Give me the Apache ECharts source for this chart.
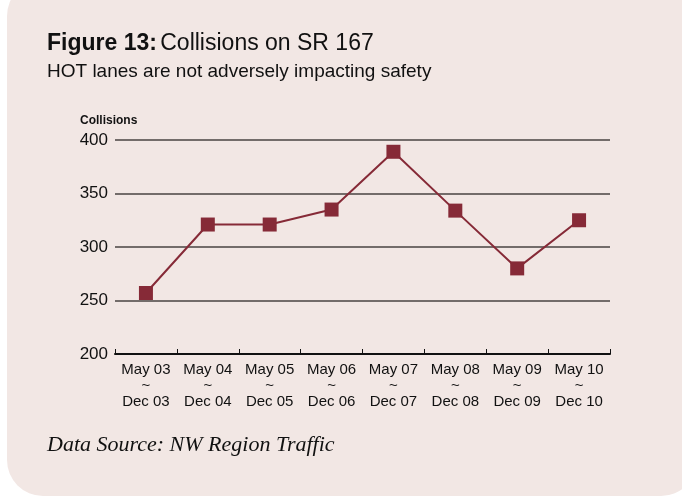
<!DOCTYPE html>
<html>
<head>
<meta charset="utf-8">
<script src="https://cdn.jsdelivr.net/npm/echarts@6/dist/echarts.min.js"></script>
<style>
html,body{margin:0;padding:0;background:#fff;}
#c{width:682px;height:496px;}
</style>
</head>
<body>
<div id="c"></div>
<script>
const periodStart = ['May 03','May 04','May 05','May 06','May 07','May 08','May 09','May 10'];
const periodEnd = ['Dec 03','Dec 04','Dec 05','Dec 06','Dec 07','Dec 08','Dec 09','Dec 10'];
const collisions = [257, 321, 321, 335, 389, 334, 280, 325];
const yTicks = [200, 250, 300, 350, 400];

const categories = periodStart.map((s, i) => s + '\n~\n' + periodEnd[i]);
const sans = '"Liberation Sans Narrow", "Liberation Sans", Arial, sans-serif';

const chart = echarts.init(document.getElementById('c'), null, {renderer: 'canvas'});
chart.setOption({
  backgroundColor: '#ffffff',
  animation: false,
  graphic: [
    {type: 'rect', z: -10, shape: {x: 7, y: -20, width: 690, height: 516, r: 36},
     style: {fill: '#f2e7e4'}},
    {type: 'text', left: 47, top: 32, style: {
      rich: {
        b: {fontFamily: sans, fontWeight: 'bold', fontSize: 23, fill: '#111'},
        n: {fontFamily: sans, fontSize: 23, fill: '#111'}
      },
      text: '{b|Figure 13:} {n|Collisions on SR 167}'
    }},
    {type: 'text', left: 47, top: 62, style: {
      text: 'HOT lanes are not adversely impacting safety',
      fontFamily: sans, fontSize: 19, fill: '#111'
    }},
    {type: 'text', left: 80, top: 115, style: {
      text: 'Collisions', fontFamily: '"Liberation Sans", Arial, sans-serif',
      fontWeight: 'bold', fontSize: 12, fill: '#111'
    }},
    {type: 'text', left: 47, top: 434, style: {
      text: 'Data Source: NW Region Traffic',
      fontFamily: '"Liberation Serif", "Times New Roman", serif',
      fontStyle: 'italic', fontSize: 22, fill: '#111'
    }}
  ],
  grid: {left: 115, right: 72, top: 140, bottom: 142, containLabel: false},
  xAxis: {
    type: 'category',
    data: categories,
    boundaryGap: true,
    axisLine: {show: true, lineStyle: {color: '#111', width: 2}},
    axisTick: {show: true, inside: true, length: 5, lineStyle: {color: '#111', width: 1}},
    axisLabel: {
      fontFamily: sans, fontSize: 15, color: '#111', lineHeight: 16, margin: 8,
      interval: 0
    },
    splitLine: {show: false}
  },
  yAxis: {
    type: 'value',
    min: 200, max: 400, interval: 50,
    axisLine: {show: false},
    axisTick: {show: false},
    axisLabel: {fontFamily: sans, fontSize: 17, color: '#111', margin: 7,
      formatter: v => yTicks.includes(v) ? String(v) : ''},
    splitLine: {show: true, lineStyle: {color: '#736c6a', width: 2}}
  },
  series: [{
    type: 'line',
    data: collisions,
    symbol: 'rect',
    symbolSize: 14,
    itemStyle: {color: '#862a37'},
    lineStyle: {color: '#862a37', width: 2},
    z: 5
  }]
});
</script>
</body>
</html>
